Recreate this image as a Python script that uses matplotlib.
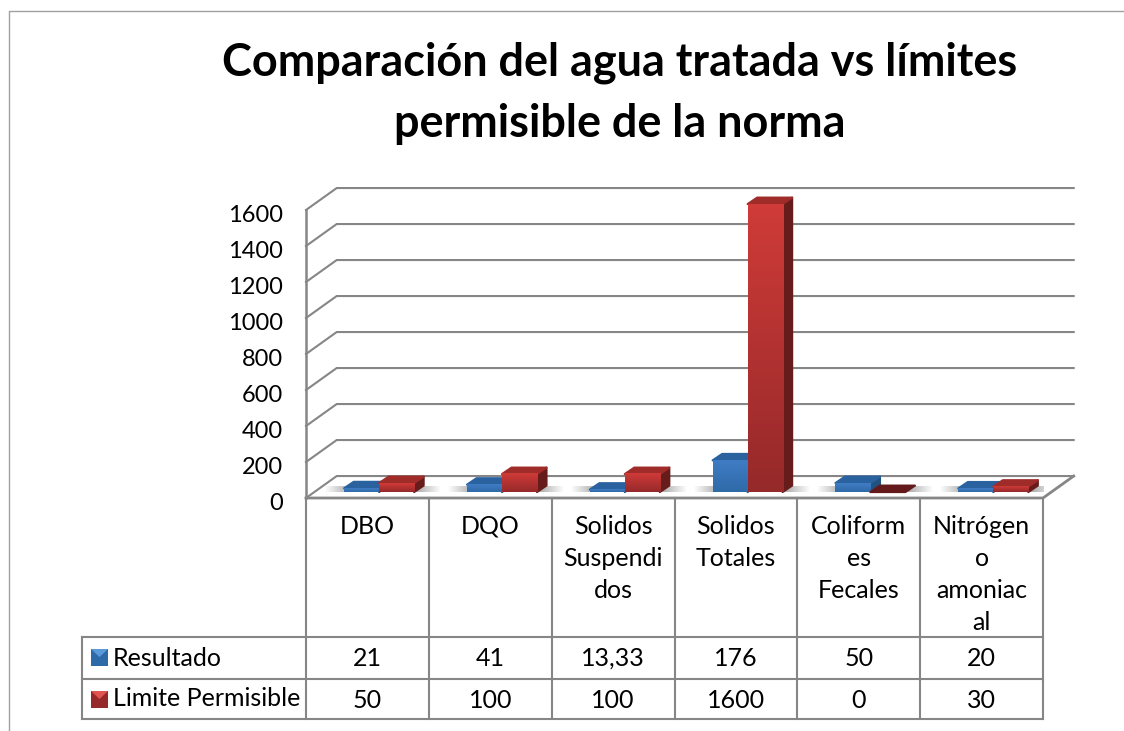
import numpy as np
import matplotlib
matplotlib.use('Agg')
import matplotlib.pyplot as plt
from matplotlib.colors import LinearSegmentedColormap
from matplotlib.patches import Polygon
from matplotlib.transforms import ScaledTranslation

categorias = ['DBO', 'DQO', 'Solidos\nSuspendi\ndos', 'Solidos\nTotales',
              'Coliform\nes\nFecales', 'Nitrógen\no\namoniac\nal']
series = ['Resultado', 'Limite Permisible']
resultado = [21, 41, 13.33, 176, 50, 20]
limite = [50, 100, 100, 1600, 0, 30]
etiquetas_resultado = ['21', '41', '13,33', '176', '50', '20']
etiquetas_limite = ['50', '100', '100', '1600', '0', '30']
ticks = [0, 200, 400, 600, 800, 1000, 1200, 1400, 1600]
titulo = 'Comparación del agua tratada vs límites\npermisible de la norma'

W, H = 1124, 731
GRIS = '#868686'
plt.rcParams['font.family'] = ['Lato', 'DejaVu Sans']

fig = plt.figure(figsize=(W / 100, H / 100), dpi=100)

# capa en pixeles para marco, tabla y leyenda
capa = fig.add_axes([0, 0, 1, 1])
capa.set_xlim(0, W)
capa.set_ylim(H, 0)
capa.axis('off')

# ejes del grafico: plano frontal del 3D
izq, der, arr, aba = 306, 1043, 210, 498
ax = fig.add_axes([izq / W, 1 - aba / H, (der - izq) / W, (aba - arr) / H])
ax.patch.set_visible(False)

n = len(categorias)
prof_x, prof_y = 0.25, 122      # fondo de la pared
bar_dx, bar_dy = 0.078, 36      # profundidad de cada barra
lift = 33                       # las barras arrancan un poco dentro del piso
ancho = 0.285
inicio = 0.31

# rejilla
for t in ticks:
    ax.plot([0, prof_x, n + prof_x], [t, t + prof_y, t + prof_y], color=GRIS,
            lw=1.5, clip_on=False, zorder=1, solid_joinstyle='miter')
ax.plot([0, n, n + prof_x], [0, 0, prof_y], color=GRIS, lw=2, clip_on=False, zorder=1)

# sombras en el piso
sombra = LinearSegmentedColormap.from_list('sombra', [(0.45, 0.45, 0.45, 0), (0.45, 0.45, 0.45, 0.95),
                                                      (0.45, 0.45, 0.45, 0.95), (0.45, 0.45, 0.45, 0)])
for i in range(n):
    ax.imshow(np.linspace(0, 1, 64).reshape(1, -1), cmap=sombra, aspect='auto', zorder=2,
              extent=(i + inicio - 0.16, i + inicio + 2 * ancho + 0.23, lift, lift + 30))


def barra(x, valor, claro, oscuro, lado, tapa):
    base = lift
    techo = lift + valor
    if valor > 0:
        ax.add_patch(Polygon([(x + ancho, base), (x + ancho + bar_dx, base + bar_dy),
                              (x + ancho + bar_dx, techo + bar_dy), (x + ancho, techo)],
                             fc=lado, ec=lado, lw=1.5, joinstyle='round', zorder=3, clip_on=False))
    else:
        tapa = '#641a1a'
    ax.add_patch(Polygon([(x, techo), (x + bar_dx, techo + bar_dy),
                          (x + ancho + bar_dx, techo + bar_dy), (x + ancho, techo)],
                         fc=tapa, ec=tapa, lw=1.5, joinstyle='round', zorder=3, clip_on=False))
    if valor > 0:
        cmap = LinearSegmentedColormap.from_list('b', [oscuro, claro])
        im = ax.imshow(np.linspace(1, 0, 64).reshape(-1, 1), cmap=cmap, aspect='auto', zorder=3,
                       extent=(x, x + ancho, base, techo))
        im.set_clip_on(False)


for i in range(n):
    barra(i + inicio, resultado[i], '#3f7cc4', '#2f6aa8', '#22527f', '#2a62a0')
    barra(i + inicio + ancho, limite[i], '#cf3b38', '#96292a', '#661c1a', '#a02c2a')

ax.set_xlim(0, n)
ax.set_ylim(0, 1600)
ax.set_xticks([])
ax.set_yticks(ticks)
ax.tick_params(axis='y', length=0, pad=16.5, labelsize=17, labelcolor='black')
bajar = ScaledTranslation(0, -2.2 / 72, fig.dpi_scale_trans)
for etiqueta in ax.get_yticklabels():
    etiqueta.set_transform(etiqueta.get_transform() + bajar)
for s in ['top', 'right', 'bottom']:
    ax.spines[s].set_visible(False)
ax.spines['left'].set_color(GRIS)
ax.spines['left'].set_linewidth(1.8)

# marco exterior
capa.plot([8.5, 8.5, W], [H, 10.5, 10.5], color='#a0a0a0', lw=1)

capa.text(620, 93, titulo, ha='center', va='center', fontsize=32.4, fontweight='bold',
          linespacing=1.56, color='black')

# tabla de datos
col = (der - izq) / n
fila0, fila1, fila2 = 637, 679, 719
for i in range(n + 1):
    x = izq + i * col
    capa.plot([x, x], [aba, fila2], color=GRIS, lw=1.5)
for y in [fila0, fila1, fila2]:
    capa.plot([82, der], [y, y], color=GRIS, lw=1.5)
capa.plot([82, 82], [fila0, fila2], color=GRIS, lw=1.5)

for i in range(n):
    cx = izq + (i + 0.5) * col
    for j, linea in enumerate(categorias[i].split('\n')):
        capa.text(cx, 526 + j * 32, linea, ha='center', va='center', fontsize=18)
    capa.text(cx, 658, etiquetas_resultado[i], ha='center', va='center', fontsize=18)
    capa.text(cx, 700, etiquetas_limite[i], ha='center', va='center', fontsize=18)

# leyenda en la tabla
muestras = [(649, '#2f6aa8', '#5b9ad8'), (691, '#96292a', '#e05550')]
for (y, oscuro, claro), nombre, yt in zip(muestras, series, [658, 699]):
    capa.add_patch(Polygon([(91, y), (108, y), (108, y + 17), (91, y + 17)], fc=oscuro, ec='none'))
    capa.add_patch(Polygon([(91, y), (108, y), (99.5, y + 8)], fc=claro, ec='none'))
    capa.text(113, yt, nombre, ha='left', va='center', fontsize=18)

fig.savefig('out.png', dpi=100)
